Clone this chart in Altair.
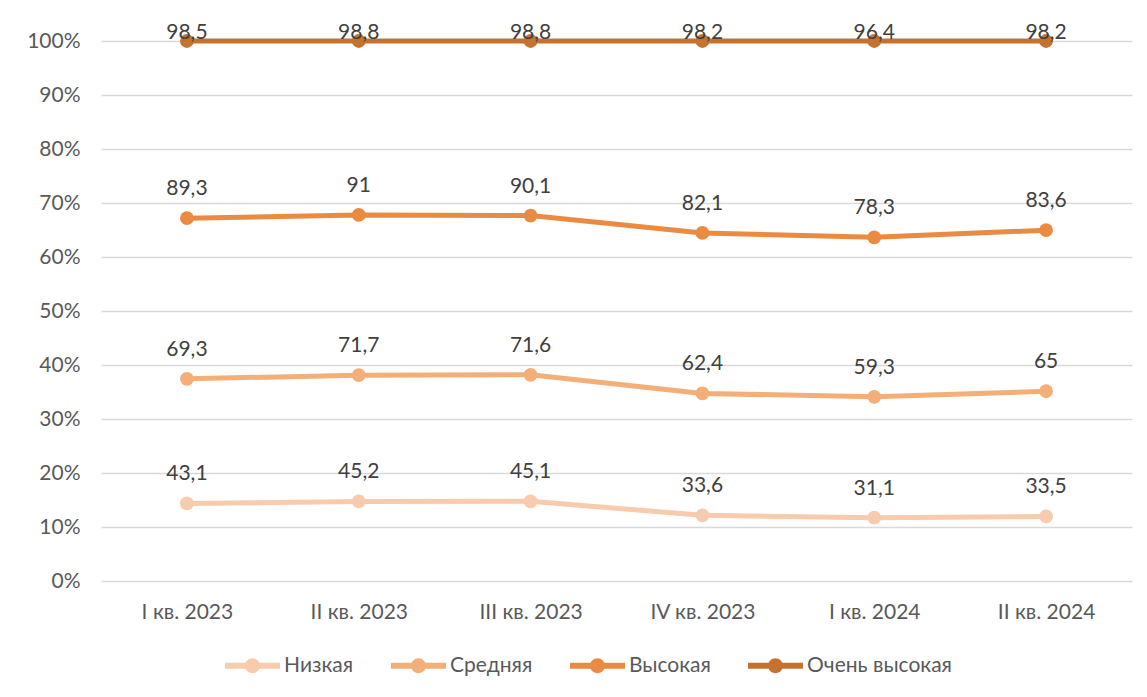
import altair as alt
import pandas as pd

quarters = ["I кв. 2023", "II кв. 2023", "III кв. 2023", "IV кв. 2023", "I кв. 2024", "II кв. 2024"]
levels = ["Низкая", "Средняя", "Высокая", "Очень высокая"]
low = [43.1, 45.2, 45.1, 33.6, 31.1, 33.5]
mid = [69.3, 71.7, 71.6, 62.4, 59.3, 65.0]
high = [89.3, 91.0, 90.1, 82.1, 78.3, 83.6]
vhigh = [98.5, 98.8, 98.8, 98.2, 96.4, 98.2]
colors = ["#F8CBAD", "#F4AE78", "#EA8B41", "#C5722F"]

series = [low, mid, high, vhigh]
rows = []
for li, (lvl, vals) in enumerate(zip(levels, series)):
    for q, v in zip(quarters, vals):
        rows.append({"quarter": q, "level": lvl, "order": li, "value": v})
df = pd.DataFrame(rows)

FONT = "Lato"
FS = 21
sym = ("M-1,-0.11 H1 V0.11 H-1 Z "
       "M0.27,0 A0.27,0.27 0 1 1 -0.27,0 A0.27,0.27 0 1 1 0.27,0 Z")

base = alt.Chart(df).transform_stack(
    stack="value", as_=["y0", "y1"], groupby=["quarter"],
    sort=[alt.SortField("order", order="ascending")], offset="normalize"
).transform_calculate(
    label="replace(toString(datum.value), '.', ',')"
)

x_enc = alt.X("quarter:N", sort=quarters, title=None,
              scale=alt.Scale(paddingInner=0, paddingOuter=0.5),
              axis=alt.Axis(labelAngle=0, ticks=False, domain=False, grid=False,
                            labelFont=FONT, labelFontSize=FS, labelColor="#595959",
                            labelPadding=20))
y_enc = alt.Y("y1:Q", title=None,
              scale=alt.Scale(domain=[0, 1]),
              axis=alt.Axis(format=".0%", values=[i / 10 for i in range(11)],
                            ticks=False, domain=False, grid=True,
                            gridColor="#D9D9D9", gridWidth=1.5,
                            labelFont=FONT, labelFontSize=FS, labelColor="#595959",
                            labelPadding=21))
color_enc = alt.Color("level:N", sort=levels, title=None,
                      scale=alt.Scale(domain=levels, range=colors),
                      legend=alt.Legend(orient="none", direction="horizontal",
                                        legendX=124, legendY=597,
                                        symbolType=sym, symbolSize=3025,
                                        symbolStrokeWidth=0,
                                        labelFont=FONT, labelFontSize=FS,
                                        labelColor="#595959", labelOffset=4,
                                        columnPadding=37))

lines = base.mark_line(strokeWidth=5,
                       point=alt.OverlayMarkDef(filled=True, size=190, opacity=1)).encode(
    x=x_enc, y=y_enc, color=color_enc, order="order:Q"
)

txt_style = dict(font=FONT, fontSize=FS, color="#404040", baseline="middle", align="center")
labels_lower = base.transform_filter(
    alt.datum.level != "Очень высокая"
).mark_text(dy=-29, **txt_style).encode(
    x=alt.X("quarter:N", sort=quarters), y="y1:Q", text="label:N"
)
labels_top = base.transform_filter(
    alt.datum.level == "Очень высокая"
).mark_text(dy=-8, **txt_style).encode(
    x=alt.X("quarter:N", sort=quarters), y="y1:Q", text="label:N"
)

chart = alt.layer(lines, labels_lower, labels_top).properties(
    width=1031, height=540,
    autosize=alt.AutoSizeParams(type="none"),
    padding={"left": 93, "top": 33, "right": 6, "bottom": 100},
).configure(background="white").configure_view(stroke=None)

chart.save("out.html", embed_options={"renderer": "svg", "actions": False})
